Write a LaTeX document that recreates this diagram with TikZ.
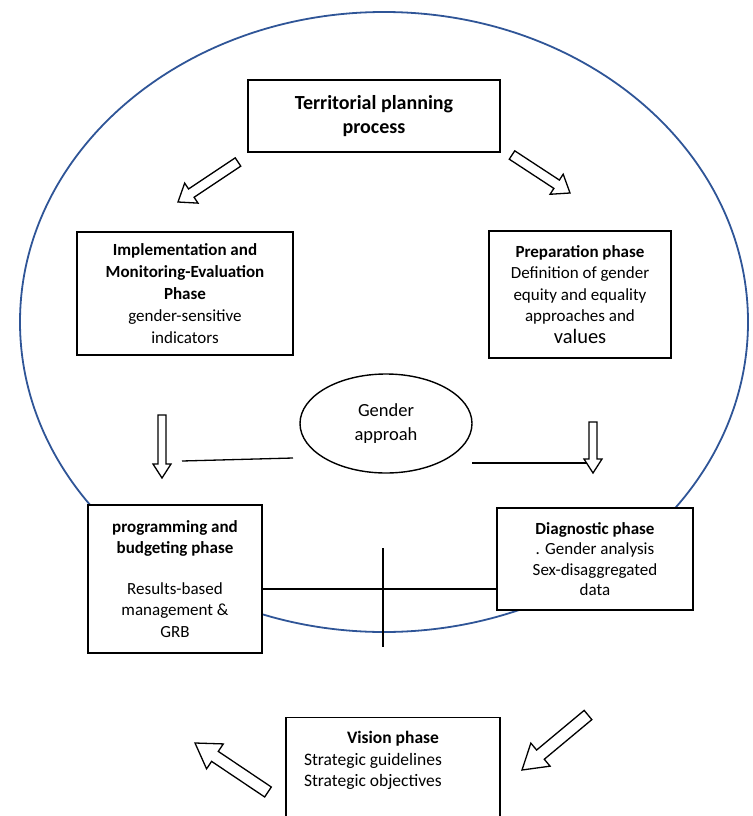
\documentclass[tikz,border=0pt]{standalone}
\usepackage{fontspec}
\setmainfont{Carlito}
\usetikzlibrary{calc,shapes.geometric}

\definecolor{ringblue}{RGB}{47,85,151}

\tikzset{
  phase/.style={draw, fill=white, line width=1.4pt, align=center, inner sep=2pt,
    font=\fontsize{17}{20.5}\selectfont},
  hollow/.style={draw, line width=1.3pt, fill=white, line join=miter},
  link/.style={line width=1.3pt},
}

% hollow block arrow: tail, tip, half shaft, half head, head length
\newcommand{\hollowarrow}[5]{%
  \coordinate (hb) at ($(#2)!#5!(#1)$);
  \draw[hollow] ($(#1)!#3!90:(#2)$) -- ($(hb)!#3!90:(#2)$) -- ($(hb)!#4!90:(#2)$)
    -- (#2) -- ($(hb)!#4!-90:(#2)$) -- ($(hb)!#3!-90:(#2)$) -- ($(#1)!#3!-90:(#2)$) -- cycle;
}

\begin{document}
\begin{tikzpicture}[x=1pt,y=-1pt]

        \useasboundingbox (0,0) rectangle (752,816);
        \clip (0,0) rectangle (752,816);

        % Il grande anello blu
        \draw[ringblue, line width=1.8pt] (384,322) ellipse [x radius=364pt, y radius=310pt];

        % Le fasi
        \node[phase, minimum width=252pt, minimum height=72pt,
              font=\bfseries\fontsize{20}{24.5}\selectfont] (territ) at (374,116)
              {Territorial planning\\process};
        \node[phase, minimum width=216pt, minimum height=123pt, font=\fontsize{17}{21.8}\selectfont] (implem) at (185,293.5)
              {\textbf{Implementation and}\\\textbf{Monitoring-Evaluation}\\\textbf{Phase}\\gender-sensitive\\indicators};
        \node[phase, minimum width=182pt, minimum height=127pt, font=\fontsize{17}{21.5}\selectfont] (prepar) at (580,294.5)
              {\textbf{Preparation phase}\\Definition of gender\\equity and equality\\approaches and\\{\fontsize{20.5}{22}\selectfont values}};
        \node[ellipse, draw, line width=1.4pt, fill=white, minimum width=172pt, minimum height=99pt,
              align=center, font=\fontsize{18.5}{24}\selectfont] (gender) at (386,423.5)
              {Gender\\approah};
        \node[phase, minimum width=174pt, minimum height=148pt, font=\fontsize{17}{21.5}\selectfont] (progra) at (175,579)
              {\textbf{programming and}\\\textbf{budgeting phase}\\[19pt]Results-based\\management \&\\GRB};
        \node[phase, minimum width=196pt, minimum height=102pt] (diagno) at (595,559)
              {\textbf{Diagnostic phase}\\. Gender analysis\\Sex-disaggregated\\data};
        \node[phase, anchor=north, inner sep=0pt, align=left, font=\fontsize{17.5}{20.5}\selectfont] (vision) at (393,717)
              {\parbox[t][120pt][t]{214pt}{\vspace{14pt}\hspace*{61pt}\textbf{Vision phase}\\[1pt]
              \hspace*{18pt}Strategic guidelines\\[1pt]\hspace*{18pt}Strategic objectives}};

        % Frecce vuote
        \coordinate (t1) at (238,162); \coordinate (h1) at (178,202);
        \coordinate (t2) at (512,155); \coordinate (h2) at (570,193);
        \coordinate (t3) at (162,415); \coordinate (h3) at (162,478);
        \coordinate (t4) at (593,422); \coordinate (h4) at (593,473);
        \coordinate (t5) at (588,715); \coordinate (h5) at (522,770);
        \coordinate (t6) at (268,792); \coordinate (h6) at (195,743);
        \hollowarrow{t1}{h1}{5pt}{12pt}{16pt}
        \hollowarrow{t2}{h2}{5pt}{12pt}{16pt}
        \hollowarrow{t3}{h3}{4pt}{9pt}{14pt}
        \hollowarrow{t4}{h4}{4pt}{9pt}{14pt}
        \hollowarrow{t5}{h5}{6pt}{15pt}{24pt}
        \hollowarrow{t6}{h6}{6pt}{15pt}{24pt}

        % Linee di collegamento
        \coordinate (l1) at (182,461); \coordinate (l2) at (293,458);
        \coordinate (r1) at (472,463); \coordinate (r2) at (587,463);
        \coordinate (c1) at (383,548); \coordinate (c2) at (383,647);
        \draw[link] (l1) -- (l2);
        \draw[link] (r1) -- (r2);
        \draw[link] (progra.east |- 0,589) -- (diagno.west |- 0,589);
        \draw[link] (c1) -- (c2);

\end{tikzpicture}
\end{document}
